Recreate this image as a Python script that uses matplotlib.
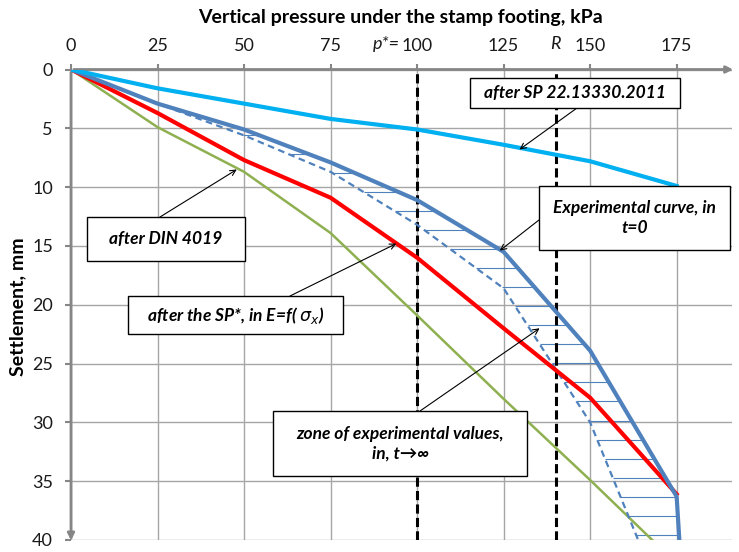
import numpy as np
import matplotlib
matplotlib.use("Agg")
import matplotlib.pyplot as plt
from matplotlib.patches import Rectangle

plt.rcParams['font.family'] = ['Lato', 'DejaVu Sans']
plt.rcParams['mathtext.fontset'] = 'dejavusans'

# pressure, kPa
p = [0, 25, 50, 75, 100, 125, 150, 175]
# settlement, mm
sp22 = [0, 1.6, 2.9, 4.2, 5.1, 6.4, 7.8, 9.9]
sp_star = [0, 3.7, 7.7, 10.9, 16.0, 22.0, 27.9, 36.1]
din = [0, 4.9, 8.7, 13.9, 20.9, 28.0, 34.9, 42.0]
exp_inf = [0, 2.9, 5.6, 8.7, 13.2, 18.6, 30.0, 48.0]
# experimental curve t=0 (last point goes below the frame)
p_exp = [0, 25, 50, 75, 100, 125, 150, 175, 176]
exp_t0 = [0, 2.9, 5.1, 7.9, 11.1, 15.5, 23.9, 36.3, 41.0]

p_star = 100
R = 140

xticks = [0, 25, 50, 75, 100, 125, 150, 175]
yticks = [0, 5, 10, 15, 20, 25, 30, 35, 40]

W, H = 739, 552
fig = plt.figure(figsize=(W / 100, H / 100), dpi=100)
ax = fig.add_axes([71 / W, 1 - 540 / H, (732 - 71) / W, (540 - 69.5) / H])

ax.set_xlim(0, 191)
ax.set_ylim(40, 0)
ax.xaxis.tick_top()
ax.set_xticks(xticks)
ax.set_yticks(yticks)
ax.tick_params(axis='both', direction='out', length=4, width=1.5, color='#868686',
               labelsize=13, labelcolor='#1a1a1a')
ax.tick_params(axis='x', pad=7)
ax.tick_params(axis='y', pad=9)
ax.grid(True, color='#A6A6A6', lw=1)
for s in ax.spines.values():
    s.set_visible(False)
ax.set_axisbelow(True)

# axes with arrows
ax.annotate('', xy=(1.006, 1), xytext=(0, 1), xycoords='axes fraction',
            arrowprops=dict(arrowstyle='-|>', color='#868686', lw=2, mutation_scale=10), clip_on=False)
ax.annotate('', xy=(0, -0.007), xytext=(0, 1), xycoords='axes fraction',
            arrowprops=dict(arrowstyle='-|>', color='#868686', lw=2, mutation_scale=10), clip_on=False)

# hatch between the two experimental curves
hy = np.arange(39.55, 5, -1.618)
xl = np.interp(hy, exp_inf, p)
xr = np.interp(hy, exp_t0, p_exp)
ax.hlines(hy, xl, xr, color='#4F81BD', lw=0.8, zorder=2)

ax.axvline(p_star, color='k', lw=2.2, ls=(0, (3, 1.4)), zorder=3)
ax.axvline(R, color='k', lw=2.2, ls=(0, (3, 1.4)), zorder=3)

ax.plot(p, din, color='#8FB050', lw=1.8, zorder=4)
ax.plot(p, exp_inf, color='#4F81BD', lw=1.6, ls=(0, (3, 2)), zorder=4)
ax.plot(p, sp_star, color='#FF0000', lw=3, zorder=4)
ax.plot(p_exp, exp_t0, color='#4F81BD', lw=3, zorder=5)
ax.plot(p, sp22, color='#00B0F0', lw=3, zorder=5)

# extra labels on the top axis
ax.text(95, 1.055, 'p*=', transform=ax.get_xaxis_transform(), ha='right', va='center',
        fontsize=13, style='italic', color='#1a1a1a')
ax.text(R, 1.055, 'R', transform=ax.get_xaxis_transform(), ha='center', va='center',
        fontsize=13, style='italic', color='#1a1a1a')

fig.text(400 / W, 1 - 17 / H, 'Vertical pressure under the stamp footing, kPa',
         ha='center', va='center', fontsize=14, fontweight='bold')
fig.text(18 / W, 1 - 307 / H, 'Settlement, mm', ha='center', va='center',
         rotation=90, fontsize=14, fontweight='bold')


def note(x0, y0, x1, y1, txt, tail, tip):
    ax.annotate('', xy=tip, xycoords='data', xytext=(tail[0], H - tail[1]),
                textcoords='figure pixels',
                arrowprops=dict(arrowstyle='->', color='k', lw=0.8, shrinkA=0, shrinkB=0),
                zorder=6)
    fig.add_artist(Rectangle((x0 / W, 1 - y1 / H), (x1 - x0) / W, (y1 - y0) / H,
                             transform=fig.transFigure, fc='white', ec='k', lw=1, zorder=5))
    fig.text((x0 + x1) / 2 / W, 1 - (y0 + y1) / 2 / H, txt, ha='center', va='center',
             fontsize=12.5, fontweight='bold', style='italic', zorder=6, linespacing=1.3)


note(470, 78, 680, 108, 'after SP 22.13330.2011', (577, 108), (129.6, 6.8))
note(539, 186, 730, 250, 'Experimental curve, in\nt=0', (539, 220), (123.9, 15.4))
note(87, 217, 245, 261, 'after DIN 4019', (160, 217), (47.9, 8.5))
note(128, 296, 343, 334, r'after the SP*, in E=f( $\sigma_x$)', (290, 296), (94.0, 14.8))
note(273, 411, 527, 476, 'zone of experimental values,\nin, t\u2192\u221e', (420, 411), (135.4, 22.0))

fig.savefig('out.png', dpi=100)
